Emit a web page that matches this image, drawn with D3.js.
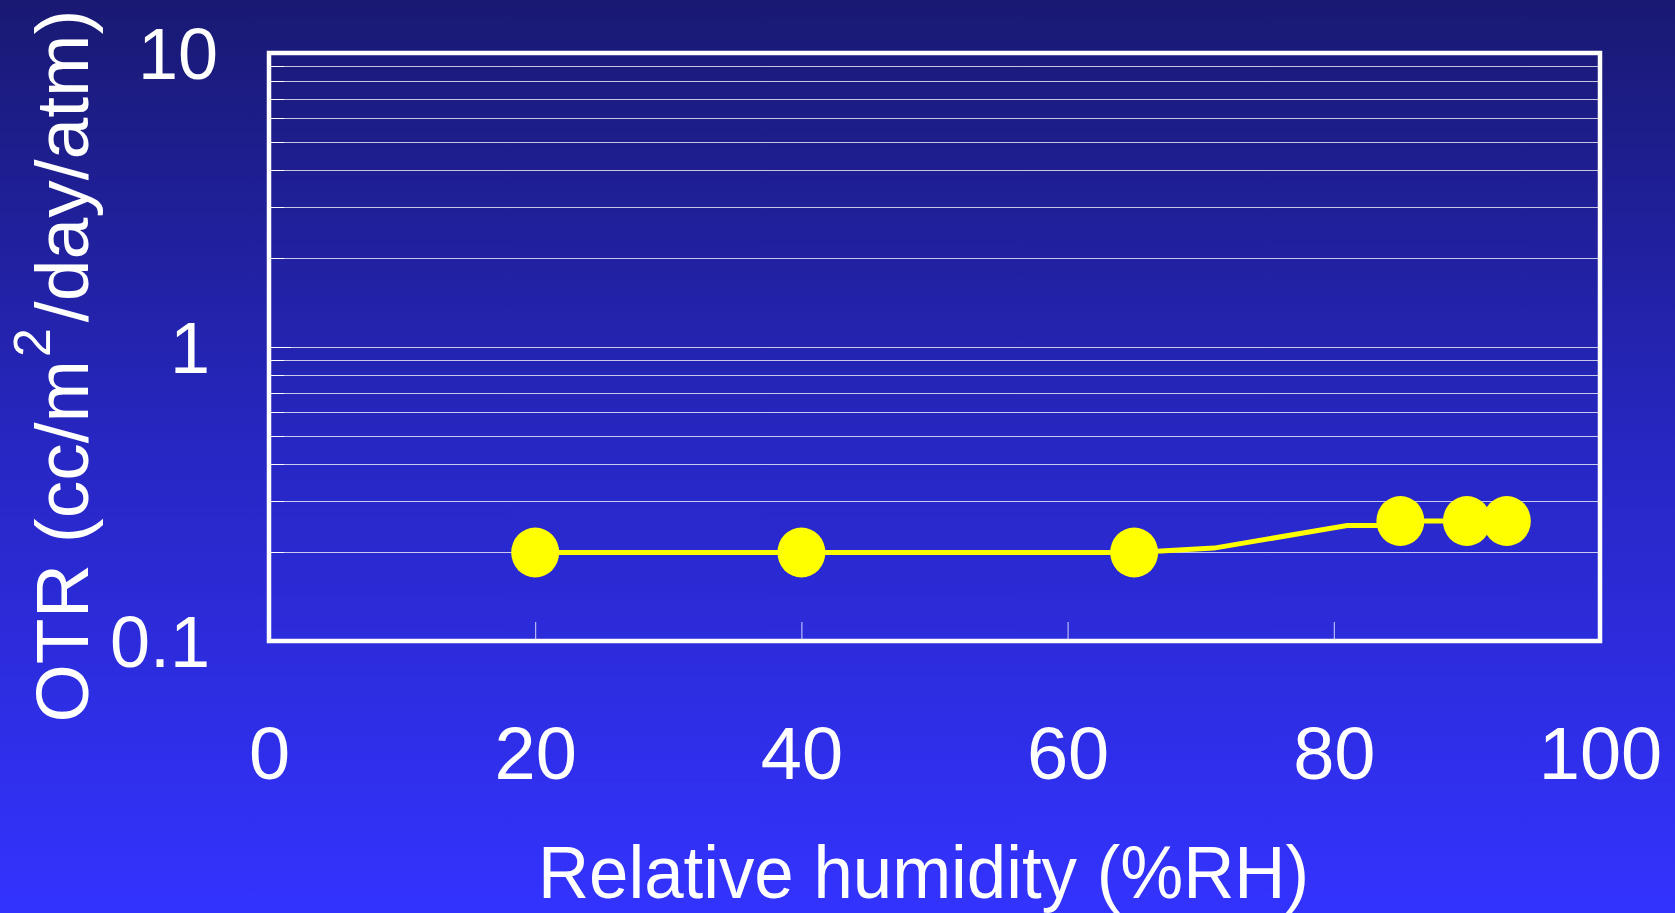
<!DOCTYPE html>
<html>
<head>
<meta charset="utf-8">
<script src="https://cdnjs.cloudflare.com/ajax/libs/d3/7.8.5/d3.min.js"></script>
<style>
  html, body { margin: 0; padding: 0; overflow: hidden; }
  body { width: 1675px; height: 913px; }
  text { font-family: Arial, "Liberation Sans", Helvetica, sans-serif; fill: #fff; }
</style>
</head>
<body>
<div id="chart"></div>
<script>
// measured points (markers)
var humidity = [20, 40, 65, 85, 90, 93];
var otr      = [0.2, 0.2, 0.2, 0.256, 0.256, 0.256];

// the yellow line has a couple of extra bends between 65 and 85 %RH
var lineHumidity = [20, 40, 65, 71, 81, 84, 85, 90, 93];
var lineOtr      = [0.2, 0.2, 0.2, 0.207, 0.247, 0.247, 0.256, 0.256, 0.256];

var xTicks = [0, 20, 40, 60, 80, 100];
var yTicks = [0.1, 1, 10];
var yGrid  = [0.2, 0.3, 0.4, 0.5, 0.6, 0.7, 0.8, 0.9, 1, 2, 3, 4, 5, 6, 7, 8, 9];

var W = 1675, H = 913;
var margin = { top: 53, right: 75, bottom: 272, left: 269 };
var width  = W - margin.left - margin.right,
    height = H - margin.top - margin.bottom;

var svg = d3.select("#chart").append("svg")
    .attr("width", W)
    .attr("height", H);

// background gradient
var grad = svg.append("defs").append("linearGradient")
    .attr("id", "bg")
    .attr("x1", 0).attr("y1", 0).attr("x2", 0).attr("y2", 1);
grad.append("stop").attr("offset", "0%").attr("stop-color", "#191973");
grad.append("stop").attr("offset", "50%").attr("stop-color", "#2727c4");
grad.append("stop").attr("offset", "100%").attr("stop-color", "#3333ff");

svg.append("rect")
    .attr("width", W).attr("height", H)
    .attr("fill", "url(#bg)");

var g = svg.append("g")
    .attr("transform", "translate(" + margin.left + "," + margin.top + ")");

var x = d3.scaleLinear().domain([0, 100]).range([0, width]);
var y = d3.scaleLog().domain([0.1, 10]).range([height, 0]);

// horizontal grid lines
g.append("g")
    .selectAll("line")
    .data(yGrid)
    .enter().append("line")
    .attr("x1", 0).attr("x2", width)
    .attr("y1", function(d) { return Math.round(y(d)) + 0.5; })
    .attr("y2", function(d) { return Math.round(y(d)) + 0.5; })
    .attr("stroke", "#fff")
    .attr("stroke-opacity", 0.75)
    .attr("stroke-width", 1);

// inner minor ticks on the left
g.append("g")
    .selectAll("line")
    .data(yGrid)
    .enter().append("line")
    .attr("x1", 0)
    .attr("x2", function(d) { return d === 1 ? 22 : 15; })
    .attr("y1", function(d) { return Math.round(y(d)) + 0.5; })
    .attr("y2", function(d) { return Math.round(y(d)) + 0.5; })
    .attr("stroke", "#fff")
    .attr("stroke-width", 1);

// x axis: inward ticks, labels below
var xAxis = g.append("g")
    .attr("transform", "translate(0," + height + ")")
    .call(d3.axisBottom(x).tickValues(xTicks).tickSize(-19).tickPadding(0).tickFormat(d3.format("d")));
xAxis.select(".domain").remove();
xAxis.selectAll(".tick line")
    .attr("stroke", "#fff")
    .attr("stroke-opacity", 0.8)
    .attr("stroke-width", 1)
    .filter(function(d) { return d === 0 || d === 100; }).remove();
xAxis.selectAll(".tick text")
    .attr("y", 138)
    .attr("dy", 0)
    .style("font-size", "74px")
    .style("fill", "#fff");

// y axis labels
var yAxis = g.append("g")
    .call(d3.axisLeft(y).tickValues(yTicks).tickSize(0).tickPadding(59)
        .tickFormat(function(d) { return d < 1 ? "0.1" : d3.format("d")(d); }));
yAxis.select(".domain").remove();
yAxis.selectAll(".tick text")
    .attr("dy", "0.36em")
    .attr("dx", function(d) { return d === 10 ? 8 : 0; })
    .style("font-size", "72px")
    .style("fill", "#fff");

// frame
g.append("rect")
    .attr("x", 0).attr("y", 0)
    .attr("width", width).attr("height", height)
    .attr("fill", "none")
    .attr("stroke", "#fff")
    .attr("stroke-width", 4.5);

// data line
var line = d3.line()
    .x(function(d) { return x(d[0]); })
    .y(function(d) { return y(d[1]); });

g.append("path")
    .datum(d3.zip(lineHumidity, lineOtr))
    .attr("d", line)
    .attr("fill", "none")
    .attr("stroke", "#ffff00")
    .attr("stroke-width", 5);

g.append("g")
    .selectAll("ellipse")
    .data(d3.zip(humidity, otr))
    .enter().append("ellipse")
    .attr("cx", function(d) { return x(d[0]); })
    .attr("cy", function(d) { return y(d[1]); })
    .attr("rx", 24)
    .attr("ry", 25)
    .attr("fill", "#ffff00");

// axis titles
svg.append("text")
    .attr("x", margin.left + width / 2 - 11)
    .attr("y", 898)
    .attr("text-anchor", "middle")
    .attr("textLength", 771)
    .attr("lengthAdjust", "spacingAndGlyphs")
    .style("font-size", "74px")
    .text("Relative humidity (%RH)");

var yTitle = svg.append("text")
    .attr("transform", "translate(88,366) rotate(-90)")
    .attr("text-anchor", "middle")
    .style("font-size", "75px");
yTitle.append("tspan").text("OTR (cc/m");
yTitle.append("tspan").attr("dy", -38).attr("dx", 3).style("font-size", "52px").text("2");
yTitle.append("tspan").attr("dy", 38).attr("dx", 6).text("/day/atm)");
</script>
</body>
</html>
